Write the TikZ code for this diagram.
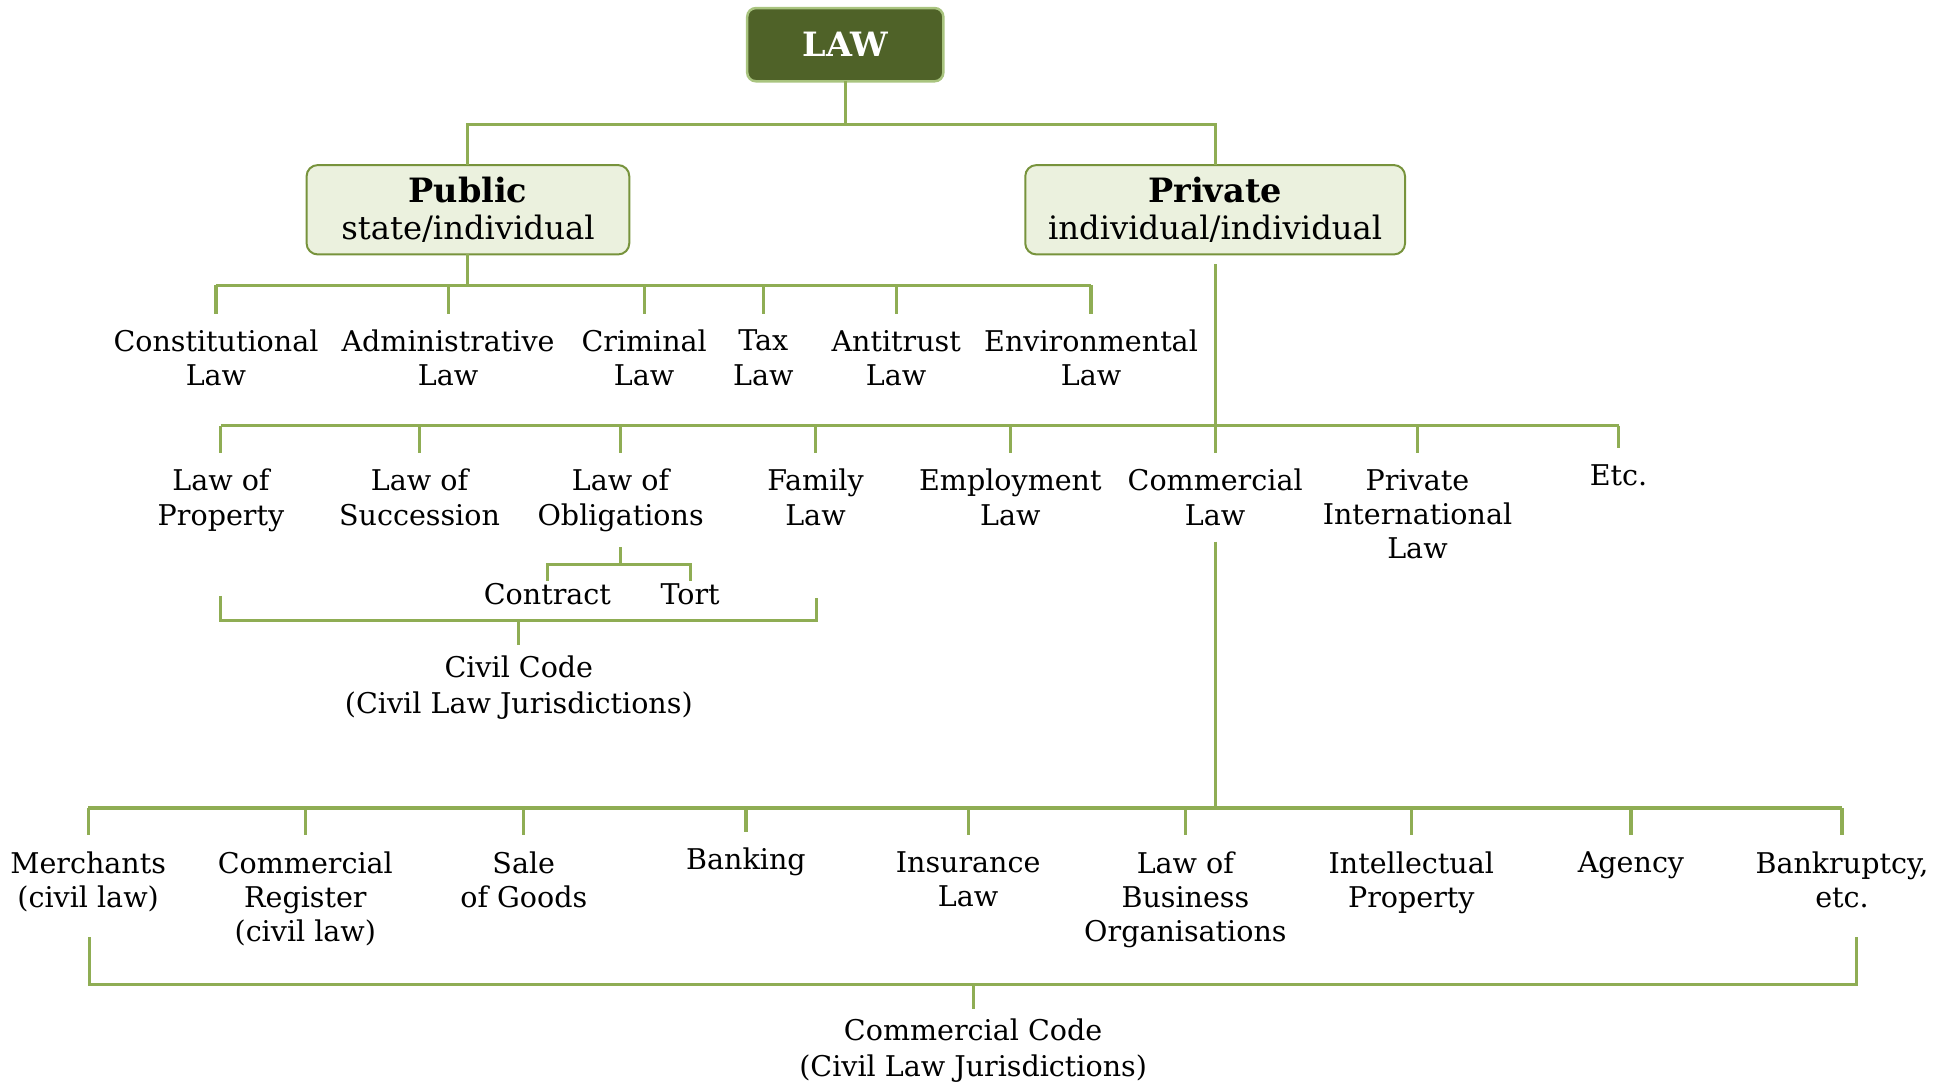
\documentclass[tikz,border=0pt]{standalone}
\usepackage{fontspec}
\setmainfont{DejaVu Serif}
\usepackage{tikz}
\definecolor{lawdark}{RGB}{79,98,40}
\definecolor{lawrim}{RGB}{169,196,127}
\definecolor{lawpale}{RGB}{235,241,222}
\definecolor{lawedge}{RGB}{119,147,60}
\definecolor{lawline}{RGB}{143,173,84}

\begin{document}
\begin{tikzpicture}[x=1pt, y=-1pt, every node/.style={outer sep=0pt, align=center},
    link/.style={draw=lawline, line width=2.5pt},
    topbox/.style={rectangle, rounded corners=7pt, draw=lawrim, line width=2pt, fill=lawdark, text=white, minimum width=158pt, minimum height=59pt, font=\fontsize{27}{30}\selectfont\bfseries},
    branchbox/.style={rectangle, rounded corners=9pt, draw=lawedge, line width=1.6pt, fill=lawpale, minimum height=72pt, inner sep=0pt, font=\fontsize{26}{30}\selectfont},
    leaf/.style={anchor=north, inner xsep=0pt, inner ysep=13pt, font=\fontsize{23}{27.5}\selectfont},
    twig/.style={leaf, inner ysep=2pt},
    codenote/.style={leaf, inner ysep=8pt, font=\fontsize{23}{29}\selectfont}]
        \useasboundingbox (0,0) rectangle (1567,874);
        \node (law) [topbox] at (681,36) {LAW};
        \node (public) [branchbox, minimum width=260pt] at (377,169) {\textbf{\fontsize{27}{30}\selectfont Public}\\state/individual};
        \node (private) [branchbox, minimum width=306pt] at (979,169) {\textbf{\fontsize{27}{30}\selectfont Private}\\individual/individual};
        % public law
        \node (const) [leaf] at (174,253) {Constitutional\\Law};
        \node (admin) [leaf] at (361,253) {Administrative\\Law};
        \node (crim) [leaf] at (519,253) {Criminal\\Law};
        \node (tax) [leaf] at (615,253) {Tax\\Law};
        \node (anti) [leaf] at (722,253) {Antitrust\\Law};
        \node (env) [leaf] at (879,253) {Environmental\\Law};
        % private law
        \node (prop) [leaf] at (178,365) {Law of\\Property};
        \node (succ) [leaf] at (338,365) {Law of\\Succession};
        \node (oblig) [leaf] at (500,365) {Law of\\Obligations};
        \node (family) [leaf] at (657,365) {Family\\Law};
        \node (employ) [leaf] at (814,365) {Employment\\Law};
        \node (comm) [leaf] at (979,365) {Commercial\\Law};
        \node (pil) [leaf] at (1142,365) {Private\\International\\Law};
        \node (etc) [leaf] at (1304,361) {Etc.};
        \node (contract) [twig] at (441,468) {Contract};
        \node (tort) [twig] at (556,468) {Tort};
        \node (civcode) [codenote] at (418,520) {Civil Code\\(Civil Law Jurisdictions)};
        % commercial law
        \node (merch) [leaf] at (71,673) {Merchants\\(civil law)};
        \node (register) [leaf] at (246,673) {Commercial\\Register\\(civil law)};
        \node (sale) [leaf] at (422,673) {Sale\\of Goods};
        \node (bank) [leaf] at (601,670) {Banking};
        \node (insur) [leaf] at (780,673) {Insurance\\Law};
        \node (busorg) [leaf] at (955,673) {Law of\\Business\\Organisations};
        \node (ip) [leaf] at (1137,673) {Intellectual\\Property};
        \node (agency) [leaf] at (1314,673) {Agency};
        \node (bankr) [leaf] at (1484,673) {Bankruptcy,\\etc.};
        \node (comcode) [codenote] at (784,813) {Commercial Code\\(Civil Law Jurisdictions)};

        \coordinate (law-bar) at (681,100);
        \coordinate (pub-bar) at (377,230);
        \coordinate (priv-bar) at (979,343);
        \coordinate (obl-bar) at (500,455);
        \coordinate (com-bar) at (979,651);
        \coordinate (cv-l) at (178,480);
        \coordinate (cv-r) at (658,482);
        \coordinate (cv-bar) at (418,500);
        \coordinate (cc-l) at (72,755);
        \coordinate (cc-r) at (1496,755);
        \coordinate (cc-bar) at (784,793);

        \draw [link] (law.south) -- (law-bar);
        \draw [link] (public.north) |- (law-bar) -| (private.north);
        \draw [link] (public.south) -- (pub-bar);
        \draw [link] (const.north |- pub-bar) -- (env.north |- pub-bar);
        \foreach \n in {const,admin,crim,tax,anti,env}
            \draw [link] (\n.north |- pub-bar) -- (\n.north);
        \draw [link, shorten <=8pt] (private.south) -- (priv-bar);
        \draw [link] (prop.north |- priv-bar) -- (etc.north |- priv-bar);
        \foreach \n in {prop,succ,oblig,family,employ,comm,pil,etc}
            \draw [link] (\n.north |- priv-bar) -- (\n.north);
        \draw [link] (oblig.south) -- (obl-bar);
        \draw [link] (contract.north) |- (obl-bar) -| (tort.north);
        \draw [link] (cv-l) |- (cv-bar) -| (cv-r);
        \draw [link] (cv-bar) -- (civcode.north);
        \draw [link] (comm.south) -- (com-bar);
        \draw [link] (merch.north |- com-bar) -- (bankr.north |- com-bar);
        \foreach \n in {merch,register,sale,bank,insur,busorg,ip,agency,bankr}
            \draw [link] (\n.north |- com-bar) -- (\n.north);
        \draw [link] (cc-l) |- (cc-bar) -| (cc-r);
        \draw [link] (cc-bar) -- (comcode.north);
    \end{tikzpicture}
\end{document}
